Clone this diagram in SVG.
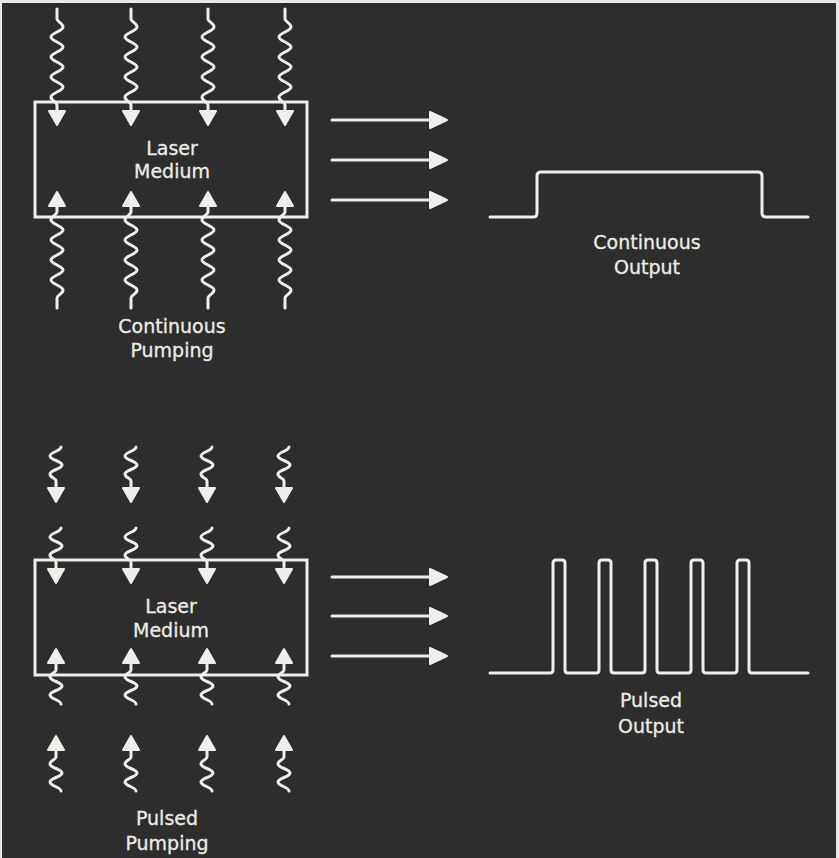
<svg xmlns="http://www.w3.org/2000/svg" xmlns:xlink="http://www.w3.org/1999/xlink" width="839" height="858" viewBox="0 0 839 858">
<style>
.ln{fill:none;stroke:#eeeeea;stroke-width:3;stroke-linecap:round;stroke-linejoin:round}
.hd{fill:#eeeeea;stroke:#eeeeea;stroke-width:2;stroke-linejoin:round}
.box{fill:none;stroke:#eeeeea;stroke-width:3}
.lbl{fill:#ecebe6;font-family:"DejaVu Sans","Liberation Sans",sans-serif;font-size:19px;text-anchor:middle;stroke:#ecebe6;stroke-width:0.3}
</style>
<defs>
<g id="cwPump">
<path class="ln" d="M0,0 V10 c0,3 6,4 6,8 c0,4 -12,6 -12,10 c0,4 12,6 12,10 c0,4 -12,6 -12,10 c0,4 12,6 12,10 c0,4 -12,6 -12,10 c0,4 12,6 12,10 c0,4 -12,6 -12,10 c0,4 6,5 6,8 V102"/>
<polygon class="hd" points="-8,102 8,102 0,116"/>
</g>
<g id="pPump">
<path class="ln" d="M5,0 c0,4 -11,5 -11,9 c0,4 12,5 12,9 c0,4 -12,5 -12,9 c0,4 6,4 6,7 V41"/>
<polygon class="hd" points="-8,41 8,41 0,55"/>
</g>
<g id="hArrow">
<line class="ln" x1="0" y1="0" x2="100" y2="0"/>
<polygon class="hd" points="98,-8 98,8 115,0"/>
</g>
</defs>
<rect x="0" y="0" width="839" height="858" fill="#e8e8e8"/>
<rect x="2" y="3" width="834" height="855" fill="#2d2d2d"/>

<g id="medium-continuous">
<rect class="box" x="35" y="102" width="272" height="115"/>
<text class="lbl" x="172" y="155">Laser</text>
<text class="lbl" x="172" y="178">Medium</text>
</g>
<g id="medium-pulsed">
<rect class="box" x="35" y="560" width="272" height="115"/>
<text class="lbl" x="171" y="613">Laser</text>
<text class="lbl" x="171" y="637">Medium</text>
</g>

<g id="continuous-output">
<path class="ln" d="M490,217 H533 q4,0 4,-4 V176 q0,-4 4,-4 H758 q4,0 4,4 V213 q0,4 4,4 H808"/>
<text class="lbl" x="647" y="249">Continuous</text>
<text class="lbl" x="647" y="274">Output</text>
</g>
<g id="pulsed-output">
<path class="ln" d="M490,673 H550 q3,0 3,-3 V563 q0,-3 3,-3 H562 q3,0 3,3 V670 q0,3 3,3 H596 q3,0 3,-3 V563 q0,-3 3,-3 H608 q3,0 3,3 V670 q0,3 3,3 H642 q3,0 3,-3 V563 q0,-3 3,-3 H654 q3,0 3,3 V670 q0,3 3,3 H688 q3,0 3,-3 V563 q0,-3 3,-3 H700 q3,0 3,3 V670 q0,3 3,3 H734 q3,0 3,-3 V563 q0,-3 3,-3 H746 q3,0 3,3 V670 q0,3 3,3 H808"/>
<text class="lbl" x="651" y="707">Pulsed</text>
<text class="lbl" x="651" y="733">Output</text>
</g>

<g id="continuous-pumping">
<text class="lbl" x="172" y="333">Continuous</text>
<text class="lbl" x="172" y="357">Pumping</text>
</g>
<g id="pulsed-pumping">
<text class="lbl" x="167" y="825">Pulsed</text>
<text class="lbl" x="167" y="850">Pumping</text>
</g>

<g id="connectors">
<use xlink:href="#cwPump" transform="translate(57,9)"/>
<use xlink:href="#cwPump" transform="translate(131,9)"/>
<use xlink:href="#cwPump" transform="translate(208,9)"/>
<use xlink:href="#cwPump" transform="translate(285,9)"/>
<use xlink:href="#cwPump" transform="translate(57,308) scale(1,-1)"/>
<use xlink:href="#cwPump" transform="translate(131,308) scale(1,-1)"/>
<use xlink:href="#cwPump" transform="translate(208,308) scale(1,-1)"/>
<use xlink:href="#cwPump" transform="translate(285,308) scale(1,-1)"/>

<use xlink:href="#pPump" transform="translate(56,447)"/>
<use xlink:href="#pPump" transform="translate(131,447)"/>
<use xlink:href="#pPump" transform="translate(207,447)"/>
<use xlink:href="#pPump" transform="translate(284,447)"/>
<use xlink:href="#pPump" transform="translate(56,528)"/>
<use xlink:href="#pPump" transform="translate(131,528)"/>
<use xlink:href="#pPump" transform="translate(207,528)"/>
<use xlink:href="#pPump" transform="translate(284,528)"/>
<use xlink:href="#pPump" transform="translate(56,704) scale(1,-1)"/>
<use xlink:href="#pPump" transform="translate(131,704) scale(1,-1)"/>
<use xlink:href="#pPump" transform="translate(207,704) scale(1,-1)"/>
<use xlink:href="#pPump" transform="translate(284,704) scale(1,-1)"/>
<use xlink:href="#pPump" transform="translate(56,791) scale(1,-1)"/>
<use xlink:href="#pPump" transform="translate(131,791) scale(1,-1)"/>
<use xlink:href="#pPump" transform="translate(207,791) scale(1,-1)"/>
<use xlink:href="#pPump" transform="translate(284,791) scale(1,-1)"/>

<use xlink:href="#hArrow" transform="translate(332,120)"/>
<use xlink:href="#hArrow" transform="translate(332,160)"/>
<use xlink:href="#hArrow" transform="translate(332,200)"/>
<use xlink:href="#hArrow" transform="translate(332,577)"/>
<use xlink:href="#hArrow" transform="translate(332,616)"/>
<use xlink:href="#hArrow" transform="translate(332,656)"/>
</g>
</svg>
